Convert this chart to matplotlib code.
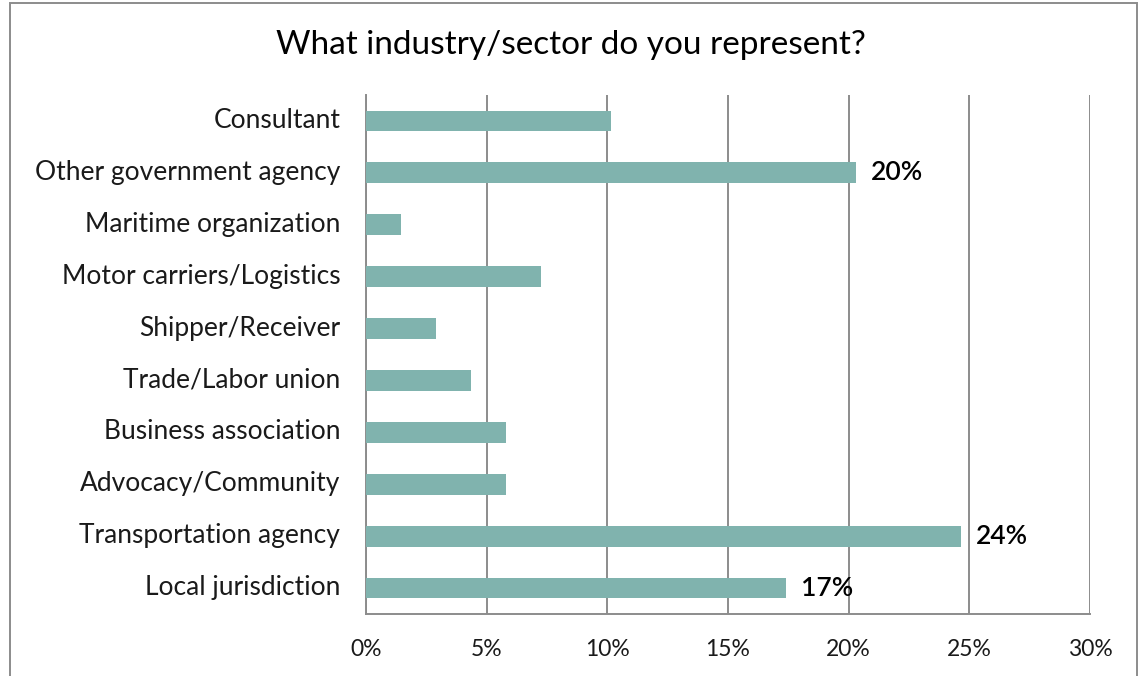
import matplotlib
matplotlib.use("Agg")
import matplotlib.pyplot as plt
from matplotlib.patches import Rectangle
from matplotlib.transforms import ScaledTranslation

plt.rcParams['font.family'] = ['Lato', 'DejaVu Sans']

# Survey responses (count of respondents per sector)
categories = [
    "Consultant",
    "Other government agency",
    "Maritime organization",
    "Motor carriers/Logistics",
    "Shipper/Receiver",
    "Trade/Labor union",
    "Business association",
    "Advocacy/Community",
    "Transportation agency",
    "Local jurisdiction",
]
counts = [7, 14, 1, 5, 2, 3, 4, 4, 17, 12]
total_respondents = 69
labelled = ["Other government agency", "Transportation agency", "Local jurisdiction"]
x_ticks = [0, 5, 10, 15, 20, 25, 30]
x_tick_labels = ["0%", "5%", "10%", "15%", "20%", "25%", "30%"]
title = "What industry/sector do you represent?"

shares = [100.0 * c / total_respondents for c in counts]

fig = plt.figure(figsize=(11.42, 6.76), dpi=100)
W, H = 1142, 676
ax = fig.add_axes([366 / W, 1 - 614 / H, (1090 - 366) / W, (614 - 95) / H])

bar_color = "#80B3AE"
grid_color = "#8C8C8C"
ypos = list(range(len(categories)))
ax.barh(ypos, shares, height=0.4, color=bar_color, zorder=3)
ax.set_ylim(len(categories) - 0.5, -0.5)
ax.set_xlim(0, 30)

ax.set_yticks(ypos)
ax.set_yticklabels(categories, fontsize=19, color="#1a1a1a")
ax.set_xticks(x_ticks)
ax.set_xticklabels(x_tick_labels, fontsize=16.5, color="#1a1a1a")
ax.tick_params(axis="both", length=0)
ax.tick_params(axis="y", pad=18.5)
ax.tick_params(axis="x", pad=18)

# nudge category labels up slightly so they sit level with the bars
lift = ScaledTranslation(0, 3 / 100, fig.dpi_scale_trans)
for lbl in ax.get_yticklabels():
    lbl.set_transform(lbl.get_transform() + lift)

ax.grid(axis="x", color=grid_color, linewidth=1.4, zorder=0)
for side in ["top", "right"]:
    ax.spines[side].set_visible(False)
ax.spines["left"].set_color(grid_color)
ax.spines["left"].set_linewidth(1.4)
ax.spines["bottom"].set_color(grid_color)
ax.spines["bottom"].set_linewidth(1.4)

for y, cat, v in zip(ypos, categories, shares):
    if cat in labelled:
        ax.text(v + 0.65, y, f"{int(v)}%", va="center", ha="left",
                fontsize=19, color="black", fontweight="semibold")

fig.text(0.5, 1 - 45 / H, title, ha="center", va="center", fontsize=24, color="black")

# outer chart frame
fig.patches.append(Rectangle((9.5 / W, -0.01), (1137 - 9.5) / W, (1 - 2.5 / H) + 0.01,
                             transform=fig.transFigure, fill=False,
                             edgecolor="#8C8C8C", linewidth=1.4))

fig.savefig("out.png", dpi=100)
